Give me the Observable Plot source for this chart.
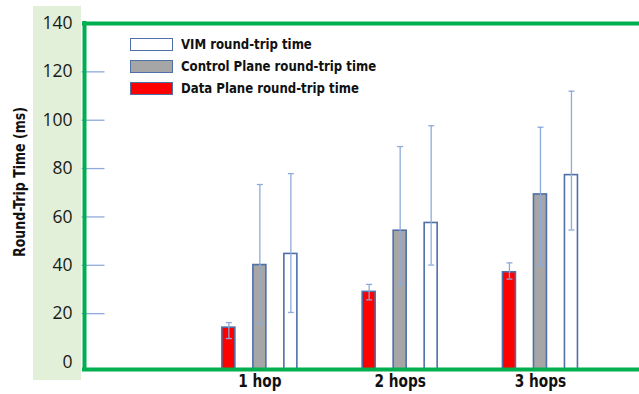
<!DOCTYPE html>
<html>
<head>
<meta charset="utf-8">
<script src="https://cdn.jsdelivr.net/npm/d3@7"></script>
<script src="https://cdn.jsdelivr.net/npm/@observablehq/plot@0.6"></script>
<style>
  html, body { margin: 0; padding: 0; background: #fff; }
  #wrap { position: relative; width: 639px; height: 394px; overflow: hidden; }
  #band { position: absolute; left: 33px; top: 6px; width: 48px; height: 374px; background: #e2efd9; }
  #chart { position: absolute; left: 0; top: 0; }
  #ytitle { position: absolute; left: 20px; top: 182px; transform: translate(-50%, -50%) rotate(-90deg) scaleX(0.93);
    white-space: nowrap; font: bold 15px "Liberation Sans Narrow", "DejaVu Sans Condensed", "Roboto", sans-serif; color: #111; }
  #legend { position: absolute; left: 130px; top: 33px; font: bold 14.5px "Liberation Sans Narrow", "DejaVu Sans Condensed", "Roboto", sans-serif; color: #111; }
  .row { display: flex; align-items: center; height: 22px; }
  .sw { width: 41px; height: 11px; border: 1.5px solid #4f6fa8; margin-right: 8px; }
  .lt { display: inline-block; transform: scaleX(0.9); transform-origin: left center; white-space: nowrap; }
</style>
</head>
<body>
<div id="wrap">
  <div id="band"></div>
  <div id="chart"></div>
  <div id="ytitle"></div>
  <div id="legend"></div>
</div>
<script>
// ---- data ----
const hops = [1, 2, 3];
const hopLabels = ["1 hop", "2 hops", "3 hops"];
const seriesNames = ["Data Plane round-trip time", "Control Plane round-trip time", "VIM round-trip time"];
const seriesColors = ["#ff0000", "#a6a6a6", "#ffffff"];
const dataPlane = [14.2, 29.0, 37.1];
const dataPlaneLo = [9.7, 25.7, 34.3];
const dataPlaneHi = [16.3, 32.1, 41.0];
const controlPlane = [40.1, 54.3, 69.3];
const controlPlaneLo = [15.9, 31.7, 39.8];
const controlPlaneHi = [73.4, 89.1, 97.1];
const vim = [44.7, 57.5, 77.3];
const vimLo = [20.5, 40.1, 54.6];
const vimHi = [77.9, 97.7, 112.0];
const yTicks = [0, 20, 40, 60, 80, 100, 120, 140];
const stubTicks = [20, 40, 60, 80, 100, 120];
const yTitle = "Round-Trip Time (ms)";

const values = [dataPlane, controlPlane, vim];
const los = [dataPlaneLo, controlPlaneLo, vimLo];
const his = [dataPlaneHi, controlPlaneHi, vimHi];
const rows = [];
seriesNames.forEach((s, si) => hops.forEach((h, hi) => rows.push({
  series: s, si, hop: h, value: values[si][hi], lo: los[si][hi], hi: his[si][hi]
})));

const yMin = -3.1, yMax = 140;
const xMin = -0.25, xMax = 3.706;
const green = "#00b050", outline = "#4f6fa8", errColor = "#8eaadb";
const offsets = [-31, 0, 31];

const capSymbol = { draw(ctx) { ctx.moveTo(-3, 0); ctx.lineTo(3, 0); } };
const stubSymbol = { draw(ctx) { ctx.moveTo(-3, 0); ctx.lineTo(20, 0); } };

const marks = [];
seriesNames.forEach((s, si) => {
  const d = rows.filter(r => r.si === si);
  marks.push(Plot.rectY(d, {
    x1: "hop", x2: "hop", y1: () => yMin, y2: "value",
    insetLeft: -6.5, insetRight: -6.5, dx: offsets[si],
    fill: seriesColors[si], stroke: outline, strokeWidth: 1.6
  }));
});
seriesNames.forEach((s, si) => {
  const d = rows.filter(r => r.si === si);
  marks.push(Plot.ruleX(d, { x: "hop", y1: "lo", y2: "hi", dx: offsets[si], stroke: errColor, strokeWidth: 1.3 }));
  marks.push(Plot.dot(d, { x: "hop", y: "hi", dx: offsets[si], symbol: capSymbol, r: 3, stroke: errColor, fill: "none", strokeWidth: 1.3 }));
  marks.push(Plot.dot(d, { x: "hop", y: "lo", dx: offsets[si], symbol: capSymbol, r: 3, stroke: errColor, fill: "none", strokeWidth: 1.3 }));
});

const chart = Plot.plot({
  width: 639, height: 394,
  marginLeft: 84, marginRight: 0, marginTop: 23, marginBottom: 25,
  style: { background: "transparent", overflow: "visible" },
  x: { type: "linear", domain: [xMin, xMax] },
  y: { domain: [yMin, yMax] },
  marks: [
    Plot.dot(stubTicks, { y: d => d, frameAnchor: "left", symbol: stubSymbol, r: 3, stroke: errColor, fill: "none", strokeWidth: 1.3 }),
    ...marks,
    Plot.ruleY([yMin, yMax], { stroke: green, strokeWidth: 4, strokeLinecap: "square" }),
    Plot.ruleX([xMin], { stroke: green, strokeWidth: 4, strokeLinecap: "square" }),
    Plot.axisY({ ticks: yTicks, tickSize: 0, tickPadding: 12, label: null,
      fontSize: 17.5, fontFamily: "Open Sans, sans-serif", fill: "#1a1a1a" }),
    Plot.axisX({ ticks: hops, tickFormat: (d) => hopLabels[hops.indexOf(d)], tickSize: 0, tickPadding: 5, label: null,
      fontSize: 17.5, fontWeight: "bold", fontFamily: "Liberation Sans Narrow, DejaVu Sans Condensed, Roboto, sans-serif", fill: "#111" })
  ]
});
// condense the x labels horizontally around their anchor
d3.select(chart).selectAll("g[aria-label^='x-axis'] text").each(function () {
  const t = this.getAttribute("transform") || "";
  this.setAttribute("transform", t + " scale(0.87,1)");
});
document.getElementById("chart").appendChild(chart);
document.getElementById("ytitle").textContent = yTitle;

// legend (reverse order: VIM, Control, Data)
const legend = document.getElementById("legend");
[2, 1, 0].forEach(si => {
  const row = document.createElement("div");
  row.className = "row";
  const sw = document.createElement("div");
  sw.className = "sw";
  sw.style.background = seriesColors[si];
  const t = document.createElement("span");
  t.className = "lt";
  t.textContent = seriesNames[si];
  row.appendChild(sw); row.appendChild(t);
  legend.appendChild(row);
});
</script>
</body>
</html>
